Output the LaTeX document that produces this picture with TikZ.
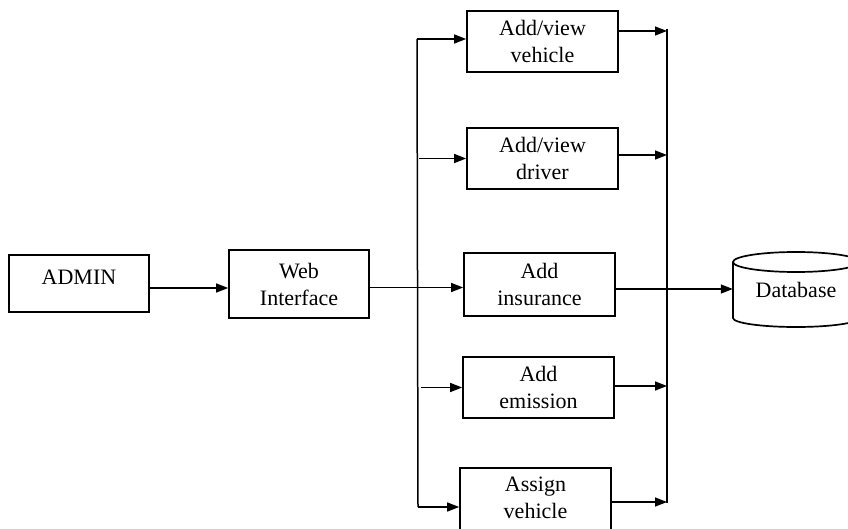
\documentclass[tikz,border=0pt]{standalone}
\usepackage{fontspec}
\setmainfont{Liberation Serif}
\usetikzlibrary{arrows.meta}
\begin{document}
\begin{tikzpicture}[x=1pt,y=-1pt,
  box/.style={draw,line width=1.7pt,align=center,inner sep=0pt,
    font=\fontsize{22}{27}\selectfont},
  conn/.style={line width=1.5pt},
  arr/.style={conn,-{Triangle[length=12pt,width=9pt]}}]
\useasboundingbox (0,0) rectangle (848,529);
\clip (0,0) rectangle (848,529);
% boxes
\node[box,minimum width=140pt,minimum height=57pt,text depth=12pt] (admin) at (79,283.5) {ADMIN};
\node[box,minimum width=140pt,minimum height=68pt] (web) at (299,284) {Web\\Interface};
\node[box,minimum width=151pt,minimum height=61pt] (veh) at (542.5,41.5) {Add/view\\vehicle};
\node[box,minimum width=151pt,minimum height=61pt] (drv) at (542.5,158.5) {Add/view\\driver};
\node[box,minimum width=151pt,minimum height=63pt] (ins) at (539.5,284.5) {Add\\insurance};
\node[box,minimum width=151pt,minimum height=61pt] (emi) at (538.5,387.5) {Add\\emission};
\node[box,minimum width=151pt,minimum height=67pt,text depth=8pt] (asg) at (535.5,501.5) {Assign\\vehicle};
% database cylinder
\node[minimum width=126pt,minimum height=75pt,inner sep=0pt,font=\fontsize{22}{27}\selectfont] (db) at (796,289.5) {Database};
\draw[line width=1.7pt] (796,262) ellipse [x radius=63, y radius=10];
\draw[line width=1.7pt] (733,262) -- (733,318) arc[start angle=180, end angle=0, x radius=63, y radius=9] -- (859,262);
% buses
\coordinate (lt) at (417,39);
\coordinate (lb) at (418,507);
\coordinate (rt) at (667,29);
\coordinate (rb) at (667,503);
\draw[conn] (lt) -- (lb);
\draw[conn] (rt) -- (rb);
% connectors
\draw[arr] ([yshift=-4.5pt]admin.east) -- ([yshift=-4.5pt]admin.east -| web.west);
\draw[arr] ([yshift=-3.5pt]web.east) -- ([yshift=-3.5pt]web.east -| ins.west);
\draw[arr] (lt) -- (lt -| veh.west);
\draw[arr] ([xshift=2pt]drv.west -| lt) -- (drv.west);
\draw[arr] ([xshift=4pt]emi.west -| lt) -- (emi.west);
\draw[arr] (lb) -- (lb -| asg.west);
\draw[arr] (veh.east |- 0,31) -- (rt |- 0,31);
\draw[arr] (drv.east |- 0,155) -- (rt |- 0,155);
\draw[arr] (ins.east |- 0,289) -- (db.west |- 0,289);
\draw[arr] (emi.east |- 0,386) -- (rt |- 0,386);
\draw[arr] (asg.east |- 0,502) -- (rt |- 0,502);
\end{tikzpicture}
\end{document}
